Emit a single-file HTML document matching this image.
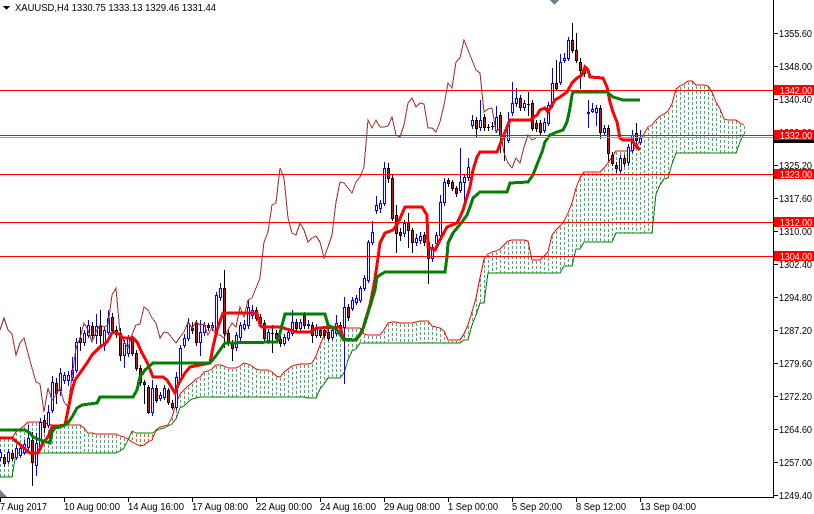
<!DOCTYPE html>
<html>
<head>
<meta charset="utf-8">
<style>
html,body{margin:0;padding:0;background:#fff;}
#w{width:814px;height:514px;overflow:hidden;}
svg text{font-family:"Liberation Sans",sans-serif;}
</style>
</head>
<body>
<div id="w"></div>
<script>
const C=[
[457,452,449,460],[457,463,454,466],[461,452,449,463],[453,458,450,460],[457,448,445,459],
[455,448,444,457],[452,444,440,454],[447,438,425,450],[440,462,432,485],[465,443,433,475],
[447,422,418,450],[420,427,415,432],[425,412,405,427],[410,382,376,412],[383,393,378,403],
[390,373,368,395],[380,375,372,383],[380,375,371,385],[377,370,357,380],[370,342,338,372],
[338,342,327,350],[342,333,330,345],[335,325,320,337],[326,335,322,338],[335,326,314,343],
[326,335,310,345],[345,330,327,350],[332,318,310,334],[317,330,313,333],[330,334,326,337],
[333,355,328,360],[355,343,340,367],[353,338,335,356],[338,353,336,355],[353,368,350,370],
[368,382,365,385],[382,384,380,403],[387,412,385,413],[412,388,380,415],[388,400,385,402],
[398,395,392,400],[397,388,385,399],[390,402,388,404],[403,407,400,409],[407,377,372,409],
[380,348,345,382],[345,338,334,347],[338,323,318,340],[328,330,322,333],[323,342,320,345],
[342,332,320,355],[332,325,322,335],[325,327,323,330],[327,325,322,330],[333,295,292,335],
[297,288,283,300],[288,333,270,347],[333,342,330,345],[342,348,340,360],[347,335,332,350],
[337,325,322,340],[328,324,320,330],[325,307,300,328],[315,310,305,318],[310,318,307,320],
[317,323,314,326],[323,338,320,340],[340,332,329,343],[333,333,325,352],[333,338,330,341],
[339,343,336,346],[343,337,334,345],[338,332,329,340],[333,322,310,335],[322,328,319,330],
[328,322,319,331],[315,325,312,328],[325,324,320,328],[325,335,322,342],[335,327,324,337],
[330,335,327,337],[330,335,327,337],[332,338,329,340],[337,330,327,339],[333,323,315,335],
[325,327,322,330],[327,307,297,383],[307,317,304,320],[308,300,297,310],[302,298,295,304],
[300,288,286,302],[288,278,275,290],[280,242,240,282],[242,232,221,244],[210,205,196,213],
[208,203,200,212],[203,168,162,205],[168,178,163,182],[178,218,175,220],[215,233,205,252],
[232,235,228,240],[233,223,220,236],[223,230,213,247],[230,242,228,252],[242,238,234,245],
[240,236,232,243],[235,242,232,245],[242,258,240,283],[258,247,244,261],[243,235,232,245],
[235,202,195,237],[202,182,178,205],[180,183,178,186],[182,188,180,190],[188,193,186,196],
[190,182,148,192],[182,177,175,205],[177,167,158,180],[125,120,115,128],[120,128,117,137],
[127,120,100,130],[117,127,114,130],[127,127,124,130],[126,126,122,129],[130,117,106,132],
[115,135,112,152],[136,137,130,160],[140,125,112,142],[112,103,82,115],[103,98,88,106],
[98,107,95,110],[107,103,100,110],[104,104,92,115],[103,128,100,130],[123,128,120,131],
[123,132,120,135],[130,122,118,132],[123,105,102,125],[105,83,68,107],[83,88,60,90],
[82,62,54,84],[60,58,53,62],[58,40,37,60],[40,50,23,52],[50,60,33,62],
[62,70,58,88],[70,73,67,76],[113,112,100,127],[111,109,103,112],[112,108,105,125],
[108,132,105,138],[132,128,125,135],[128,153,125,160],[155,163,152,165],[165,168,162,172],
[170,158,155,172],[158,163,155,166],[162,147,144,165],[150,135,130,152],[133,140,123,143],
[142,138,130,144]
];
const T=[[0,438],[12,438],[30,453],[38,453],[43,443],[48,437],[52,427],[65,425],[68,410],[72,390],[75,380],[80,373],[87,363],[92,355],[100,347],[107,342],[112,333],[115,332],[120,335],[123,338],[133,338],[137,342],[142,353],[147,362],[153,377],[163,377],[167,380],[175,393],[178,385],[182,378],[185,373],[190,367],[200,365],[210,363],[213,347],[217,330],[223,313],[257,313],[260,325],[262,327],[280,327],[290,330],[297,332],[310,332],[317,328],[340,327],[344,340],[356,340],[362,332],[366,318],[370,305],[374,285],[377,265],[380,243],[385,233],[393,230],[398,223],[405,207],[422,207],[427,215],[428,247],[435,250],[440,240],[447,227],[457,223],[460,217],[463,210],[467,197],[470,187],[473,170],[477,157],[480,152],[497,152],[503,137],[510,120],[530,120],[537,115],[540,110],[545,108],[548,112],[552,105],[555,100],[560,97],[567,92],[572,83],[577,78],[582,75],[585,67],[588,70],[590,77],[603,78],[607,87],[610,102],[613,112],[617,122],[620,138],[623,140],[632,140],[635,145],[640,150]];
const K=[[0,430],[25,430],[30,433],[33,437],[40,440],[50,443],[52,432],[55,428],[60,427],[65,425],[68,423],[72,417],[77,408],[82,405],[97,403],[100,397],[133,397],[137,390],[140,377],[145,370],[153,363],[210,363],[215,357],[220,350],[225,343],[277,342],[280,333],[285,314],[325,314],[328,325],[337,330],[343,339],[355,340],[358,337],[362,331],[365,323],[368,313],[372,300],[375,290],[377,277],[380,275],[385,272],[445,272],[447,257],[448,243],[453,233],[458,227],[462,222],[467,215],[470,207],[473,198],[480,192],[507,192],[510,183],[528,182],[533,175],[538,162],[542,152],[545,142],[550,135],[557,132],[563,130],[567,122],[570,108],[572,95],[573,92],[607,92],[613,97],[623,100],[640,100]];
const AH=[[0,438],[13,438],[15,433],[25,425],[28,422],[40,422],[50,425],[82,425],[85,430],[88,433],[104,434]];
const BH=[[0,477],[12,477],[15,453],[117,453],[122,450],[125,447],[128,440],[131,432],[133,429],[136,433],[153,433],[158,430],[163,428],[173,423],[177,417],[180,408],[185,405],[190,400],[200,397],[308,397]];
function ip(P,x){if(x<=P[0][0])return P[0][1];for(let k=1;k<P.length;k++){if(x<=P[k][0]){const a=P[k-1],b=P[k];return a[1]+(b[1]-a[1])*(x-a[0])/((b[0]-a[0])||1);}}return P[P.length-1][1];}
function pl(P,col,w){return '<polyline fill="none" stroke="'+col+'" stroke-width="'+w+'" points="'+P.map(p=>p[0]+','+p[1]).join(' ')+'"/>';}
let s='';
// cloud
const A=[],B=[];
for(let i=0;i<=186;i++){
  const x=4*i;
  let a=x<104?ip(AH,x):(ip(T,x-104)+ip(K,x-104))/2;
  let b;
  if(i<77){b=ip(BH,x);}else{const j=i-26;let hi=1e9,lo=-1e9;for(let q=Math.max(0,j-51);q<=Math.min(160,j);q++){hi=Math.min(hi,C[q][2]);lo=Math.max(lo,C[q][3]);}b=(hi+lo)/2;}
  A.push([x,Math.round(a)]);B.push([x,Math.round(b)]);
}
for(let i=0;i<=186;i++){
  const a=A[i][1],b=B[i][1],x=4*i+0.5;
  const t=Math.min(a,b),bt=Math.max(a,b);
  if(bt-t<2)continue;
  const col=a<=b?'#3cb371':'#ff5a14';
  s+='<line x1="'+x+'" x2="'+x+'" y1="'+(t+1)+'" y2="'+bt+'" stroke="'+col+'" stroke-width="1" stroke-dasharray="3 2"/>';
}
s+=pl(A,'#ff0000',1);
s+=pl(B,'#008000',1);
// candles
for(let i=0;i<C.length;i++){
  const [o,c,h,l]=C[i];const x=4*i;
  const bull=c<o, doji=o===c;
  const sc=bull?'#0000ff':'#000000';
  s+='<line x1="'+(x+0.5)+'" x2="'+(x+0.5)+'" y1="'+h+'" y2="'+(l+1)+'" stroke="'+sc+'"/>';
  if(doji){s+='<line x1="'+(x-1)+'" x2="'+(x+2)+'" y1="'+(o+0.5)+'" y2="'+(o+0.5)+'" stroke="'+sc+'"/>';}
  else{const tp=Math.min(o,c),bt=Math.max(o,c);
    s+='<rect x="'+(x-0.5)+'" y="'+(tp+0.5)+'" width="2" height="'+Math.max(bt-tp,1)+'" fill="'+(bull?'#ffffff':'#ff0000')+'" stroke="'+sc+'" stroke-width="1"/>';}
}
// chikou
const CH=[];for(let j=0;j<=134;j++)CH.push([4*j,C[j+26][1]]);
s+=pl(CH,'#a52a2a',1);
s+=pl(T,'#ff0000',3);
s+=pl(K,'#008000',3);
// horizontal lines
[90,135,174,222,256].forEach(y=>{s+='<line x1="0" x2="773" y1="'+(y+0.5)+'" y2="'+(y+0.5)+'" stroke="#ff0000"/>';});
s+='<line x1="0" x2="773" y1="137.5" y2="137.5" stroke="#9a9a9a"/>';
// axes
s+='<rect x="774" y="0" width="40" height="514" fill="#fff"/><rect x="0" y="498" width="814" height="16" fill="#fff"/>';
s+='<line x1="773.5" x2="773.5" y1="0" y2="498" stroke="#000"/>';
s+='<line x1="0" x2="774" y1="497.5" y2="497.5" stroke="#000"/>';
const PL=['1355.60','1348.00','1340.40','1332.80','1325.20','1317.60','1310.00','1302.40','1294.80','1287.20','1279.60','1272.20','1264.60','1257.00','1249.40'];
PL.forEach((t,k)=>{const y=Math.round(32.7+33.02*k);
  s+='<line x1="774" x2="778" y1="'+(y+0.5)+'" y2="'+(y+0.5)+'" stroke="#000"/>';
  s+='<text x="779" y="'+(y+4)+'" font-size="10" fill="#000" textLength="33" lengthAdjust="spacingAndGlyphs">'+t+'</text>';});
const XL=[[0,'7 Aug 2017',47],[64,'10 Aug 00:00',56],[128,'14 Aug 16:00',56],[192,'17 Aug 08:00',56],[256,'22 Aug 00:00',56],[320,'24 Aug 16:00',56],[384,'29 Aug 08:00',56],[448,'1 Sep 00:00',50],[512,'5 Sep 20:00',50],[576,'8 Sep 12:00',50],[640,'13 Sep 04:00',56]];
XL.forEach(([x,t,w])=>{
  s+='<line x1="'+(x+0.5)+'" x2="'+(x+0.5)+'" y1="498" y2="502" stroke="#000"/>';
  s+='<text x="'+x+'" y="510" font-size="10" fill="#000" textLength="'+w+'" lengthAdjust="spacingAndGlyphs">'+t+'</text>';});
// price label boxes
s+='<rect x="774" y="133" width="40" height="10" fill="#000"/>';
[[90,'1342.00'],[135,'1332.00'],[174,'1323.00'],[222,'1312.00'],[256,'1304.00']].forEach(([y,t])=>{
  s+='<rect x="774" y="'+(y-5)+'" width="40" height="10" fill="#ff0000"/>';
  s+='<text x="780" y="'+(y+4)+'" font-size="10" fill="#fff" textLength="32" lengthAdjust="spacingAndGlyphs">'+t+'</text>';});
// header
s+='<polygon points="3,6 10,6 6.5,10" fill="#000"/>';
s+='<text x="15" y="11" font-size="10" fill="#000" textLength="201" lengthAdjust="spacingAndGlyphs">XAUUSD,H4  1330.75 1333.13 1329.46 1331.44</text>';
// markers
s+='<polygon points="550,0 559,0 554.5,5" fill="#708090"/>';
s+='<polygon points="0,490 0,497 7,497" fill="#708090"/>';
document.getElementById('w').innerHTML='<svg xmlns="http://www.w3.org/2000/svg" width="814" height="514" viewBox="0 0 814 514" shape-rendering="crispEdges">'+s+'</svg>';
</script>
</body>
</html>
